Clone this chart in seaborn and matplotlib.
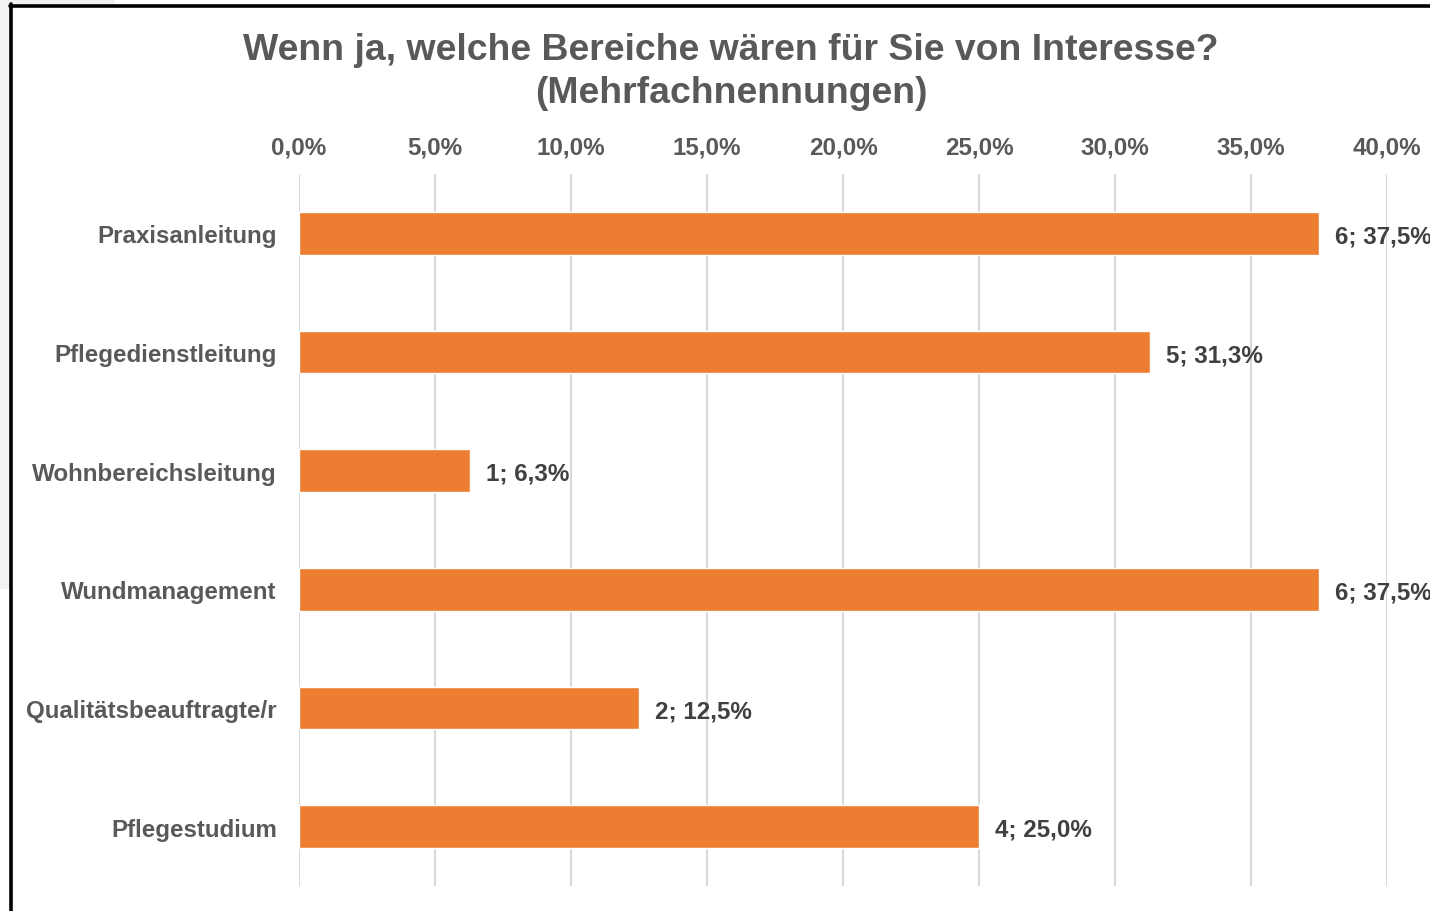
import pandas as pd
import seaborn as sns
import matplotlib.pyplot as plt
from matplotlib.patches import Rectangle
from matplotlib.lines import Line2D
from matplotlib.ticker import FuncFormatter

# data
categories = ["Praxisanleitung", "Pflegedienstleitung", "Wohnbereichsleitung",
              "Wundmanagement", "Qualitätsbeauftragte/r", "Pflegestudium"]
counts = [6, 5, 1, 6, 2, 4]
percents = [37.5, 31.3, 6.3, 37.5, 12.5, 25.0]
x_ticks = [0, 5, 10, 15, 20, 25, 30, 35, 40]

title = "Wenn ja, welche Bereiche wären für Sie von Interesse?\n(Mehrfachnennungen)"

df = pd.DataFrame({"Bereich": categories, "Anteil": percents, "Anzahl": counts})

sns.set_style("white")
plt.rcParams["font.family"] = ["Liberation Sans", "DejaVu Sans"]
plt.rcParams["font.weight"] = "bold"

W, H = 1430, 912
fig = plt.figure(figsize=(W / 100, H / 100), dpi=100)
fig.patch.set_facecolor("white")

# screenshot remnants: grey margin and black frame
fig.add_artist(Rectangle((0, 1 - 590 / H), 10 / W, 590 / H, transform=fig.transFigure,
                         facecolor="#f2f2f2", edgecolor="none"))
fig.add_artist(Rectangle((0, 1 - 5 / H), 115 / W, 5 / H, transform=fig.transFigure,
                         facecolor="#f2f2f2", edgecolor="none"))
fig.add_artist(Line2D([11.5 / W, 11.5 / W], [0, 1 - 5 / H], transform=fig.transFigure,
                      color="black", lw=2.6))
fig.add_artist(Line2D([10 / W, 1], [1 - 6.5 / H, 1 - 6.5 / H], transform=fig.transFigure,
                      color="black", lw=2.6))

ax = fig.add_axes([299 / W, 1 - 887 / H, (1387 - 299) / W, (887 - 175) / H])

sns.barplot(data=df, y="Bereich", x="Anteil", orient="h", color="#ED7D31",
            saturation=1, width=0.36, ax=ax, zorder=3)

ax.set_xlim(0, 40)
ax.set_ylim(len(categories) - 0.5, -0.5)
ax.set_xticks(x_ticks)
ax.xaxis.set_major_formatter(FuncFormatter(lambda v, p: f"{v:.1f}%".replace(".", ",")))
ax.xaxis.tick_top()
ax.grid(axis="x", color="#d9d9d9", lw=1.5, zorder=0)
ax.grid(axis="y", visible=False)
ax.set_axisbelow(True)
for s in ax.spines.values():
    s.set_visible(False)
ax.set_xlabel("")
ax.set_ylabel("")
ax.tick_params(axis="x", length=0, pad=11.5, labelsize=17.4, labelcolor="#595959")
ax.tick_params(axis="y", length=0, pad=16, labelsize=17.4, labelcolor="#595959")

for i, (c, p) in enumerate(zip(counts, percents)):
    ax.annotate(f"{c}; {p:.1f}%".replace(".", ","), xy=(p, i), xytext=(11.5, -1.8),
                textcoords="offset points", va="center", ha="left",
                fontsize=17.4, fontweight="bold", color="#404040",
                annotation_clip=False)

fig.text(731 / W, 1 - 72 / H, title, ha="center", va="center", fontsize=26.9,
         fontweight="bold", color="#595959", linespacing=1.3)

fig.savefig("out.png", dpi=100)
